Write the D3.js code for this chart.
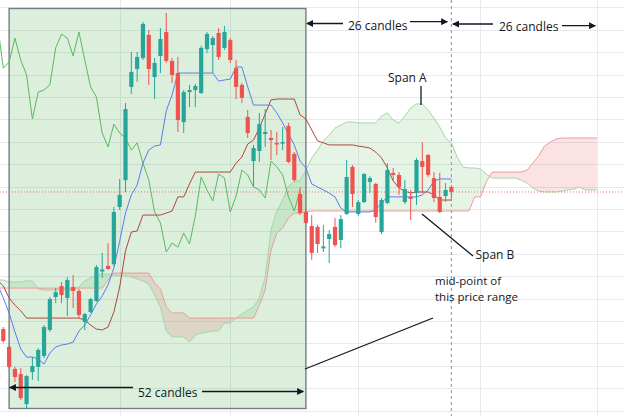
<!DOCTYPE html>
<html><head><meta charset="utf-8">
<script src="https://cdn.jsdelivr.net/npm/d3@7"></script>
<style>html,body{margin:0;padding:0;background:#fff;overflow:hidden}</style>
</head><body><svg id="c" width="624" height="416"></svg>
<script>
// ---- candle data (index 0..77) ----
const opens=[36.4,28.4,18.6,16.3,2.9,17.2,19.5,24.4,36.0,50.7,
55.6,50.3,55.2,53.4,39.6,44.0,48.9,62.1,64.6,65.4,
90.9,102.9,144.5,152.5,157.4,167.7,148.9,158.3,169.0,156.1,
150.7,128.8,142.2,143.1,141.8,161.4,163.2,168.6,161.9,165.4,
152.9,145.4,131.1,111.4,115.9,123.5,121.7,119.5,119.2,127.1,
114.6,96.7,88.7,82.4,82.0,72.4,76.6,82.0,76.2,87.8,
108.8,87.8,93.1,102.1,101.2,79.7,92.7,106.1,105.2,93.1,
95.4,97.1,111.4,114.1,103.8,95.4,95.8,99.8];
const highs=[37.3,29.3,19.5,19.0,15.9,23.9,27.9,38.2,50.7,54.7,
57.4,59.6,60.5,54.3,43.6,50.3,65.0,70.4,74.8,90.9,
103.4,137.3,160.1,160.1,173.5,169.9,157.4,170.8,177.5,157.4,
157.9,143.1,145.4,145.8,162.8,169.0,167.2,170.8,171.7,166.3,
156.5,146.3,134.2,118.6,132.9,134.6,125.3,124.4,126.6,128.4,
115.4,99.8,89.6,87.3,82.9,82.9,80.6,86.0,87.3,111.9,
109.6,94.0,106.1,104.7,101.6,94.9,110.5,108.3,106.5,102.9,
98.5,112.8,119.9,114.6,106.5,106.1,101.6,100.7];
const lows=[30.2,19.0,12.8,4.7,0.7,13.7,13.2,23.5,35.1,48.0,
48.0,42.2,45.8,41.3,36.0,43.6,48.5,59.2,62.8,64.6,
89.6,97.6,141.3,146.7,156.5,145.4,139.1,150.7,155.2,146.3,
124.4,123.9,135.5,135.5,141.3,159.6,150.7,156.5,161.0,155.2,
139.1,137.3,121.7,99.8,111.0,117.7,111.9,114.1,116.3,110.5,
102.1,87.3,83.3,67.2,70.4,70.8,65.9,73.0,72.6,87.3,
90.9,86.9,92.7,97.1,83.8,78.8,92.2,102.9,96.3,92.2,
85.1,91.8,97.1,104.3,93.1,88.2,93.1,94.9];
const closes=[31.1,19.5,15.0,5.6,15.4,19.9,27.1,37.3,49.8,52.9,
51.6,58.3,53.4,42.7,43.1,49.8,64.1,63.0,63.2,88.7,
96.3,134.6,151.2,157.9,172.6,152.5,155.2,165.9,156.1,149.8,
129.7,142.2,143.1,144.9,161.9,168.1,166.3,157.9,169.0,156.5,
144.5,139.6,123.9,117.2,127.9,124.4,120.8,118.8,119.9,111.0,
102.9,88.2,83.8,70.4,74.4,73.3,78.8,73.9,85.5,104.3,
96.7,93.1,105.6,103.8,86.4,94.0,107.4,105.2,99.8,98.9,
94.5,111.9,108.8,105.2,94.9,88.7,98.5,97.6];

// ---- indicator lines (first value is index -1) ----
const tenkan=[56.5,50.3,43.6,35.1,27.5,23.9,23.9,23.0,20.8,25.7,28.4,
29.3,29.7,30.6,35.5,38.2,42.7,47.6,51.2,56.1,63.7,
75.7,88.2,96.3,100.7,110.5,116.3,118.1,118.6,133.8,140.9,
150.7,150.7,150.7,150.7,150.7,150.7,150.7,147.1,147.6,148.0,
153.4,153.4,144.5,136.4,136.4,136.4,136.4,132.9,128.4,123.5,
118.6,111.4,108.3,101.2,99.8,98.5,97.1,95.4,90.4,88.7,
88.7,88.7,88.7,88.7,89.6,92.7,95.4,95.4,95.4,95.4,
95.4,95.4,96.3,98.5,102.5,103.4,103.4,103.4];
const kijun=[58.3,55.6,50.3,47.1,44.5,41.3,41.3,41.3,41.3,41.3,41.3,
41.3,41.3,41.3,41.3,40.4,38.2,36.4,36.0,37.3,44.0,
55.2,71.3,79.7,80.2,87.3,87.3,87.3,87.3,88.2,89.1,
95.4,95.4,101.2,106.5,106.5,106.5,106.5,106.5,106.5,106.5,
110.5,113.2,119.0,120.8,126.2,132.4,138.7,139.1,139.1,139.1,
139.1,132.0,130.2,125.3,120.4,119.5,118.6,118.6,118.6,118.6,
118.6,118.1,117.7,117.2,115.4,112.8,108.3,102.5,99.4,98.0,
97.1,97.6,97.6,97.6,96.3,94.0,94.0,94.0];
const chikou=[172.6,152.9,155.6,166.3,156.5,149.8,130.2,142.2,143.1,145.4,161.9,
168.1,166.3,158.3,169.0,156.5,144.5,140.0,123.9,117.7,127.9,
123.9,121.7,116.3,119.5,110.5,102.9,88.7,83.8,70.8,74.8,
73.0,79.3,74.4,86.9,104.3,98.5,93.6,105.6,103.8,88.7,
95.8,107.4,105.2,99.8,98.5,94.9,111.4,108.8,105.2,95.4,
89.1,98.5];
const spanA=[58.3,58.3,57.4,57.4,57.4,57.9,57.9,54.3,53.8,53.8,53.8,
53.8,53.8,53.8,55.2,57.9,59.2,60.5,61.0,61.0,60.5,
60.1,60.1,59.6,58.8,57.9,56.5,51.6,46.3,35.5,32.9,
32.9,32.9,30.6,33.8,34.6,35.1,35.5,35.5,39.1,39.1,
41.3,43.1,44.9,46.3,50.3,59.6,80.6,89.1,94.0,100.3,
102.1,102.9,107.4,112.8,116.3,120.4,123.0,126.2,127.5,128.8,
128.8,128.4,128.4,128.4,128.4,131.5,132.9,129.7,128.4,131.5,
135.1,136.9,136.9,134.2,130.6,126.6,121.7,119.5,113.2,108.8,
108.3,108.3,107.9,105.6,103.8,103.8,103.8,103.8,103.8,102.9,
101.6,99.4,98.0,97.6,97.6,97.6,98.0,98.5,98.9,99.8,
98.5,98.5,98.5];
const spanB=[54.7,54.7,54.7,54.7,54.7,54.7,54.7,54.7,54.7,54.7,54.7,
54.7,54.7,54.7,54.7,54.7,54.7,54.7,54.7,58.3,61.4,
61.4,61.4,61.4,61.4,61.4,61.4,57.0,54.3,46.3,43.6,
43.6,43.6,41.3,41.3,41.3,41.3,41.3,41.3,41.3,41.3,
41.3,41.3,41.3,41.3,47.1,53.8,71.7,79.3,81.5,86.0,
88.2,88.2,88.7,89.1,89.1,89.1,89.1,89.1,89.1,89.1,
89.1,89.1,89.1,89.1,89.1,89.1,89.1,89.1,89.1,89.1,
89.1,89.1,89.1,89.1,89.1,89.1,89.1,89.1,89.1,89.1,
89.1,95.4,95.4,102.1,106.5,106.5,106.5,106.5,106.5,106.5,
107.4,110.5,113.7,118.1,119.9,121.2,121.7,121.7,121.7,121.7,
121.7,121.7,121.7];
const gridPrices=d3.range(0,181,10);
const gridCandles=[20,39,61,82,102];
const lastPrice=97.6;

const W=624,H=416;
const svg=d3.select('#c');
const x=d3.scaleLinear().domain([0,77]).range([3.3,451.4]);
const y=d3.scaleLinear().domain([0,180]).range([410.6,7.4]);
const FONT='"Open Sans", "Noto Sans", sans-serif';
const INK='#131722';

svg.append('rect').attr('width',W).attr('height',H).attr('fill','#fff');
const defs=svg.append('defs');
defs.append('marker').attr('id','ah').attr('viewBox','0 0 10 10').attr('refX',9).attr('refY',5)
  .attr('markerWidth',7).attr('markerHeight',7).attr('markerUnits','userSpaceOnUse').attr('orient','auto')
  .append('path').attr('d','M0,0L10,5L0,10Z').attr('fill',INK);

// grid
svg.append('g').selectAll('line').data(gridPrices).join('line')
  .attr('x1',0).attr('x2',W).attr('y1',d=>Math.round(y(d))+0.5).attr('y2',d=>Math.round(y(d))+0.5)
  .attr('stroke','#e6e9ee').attr('stroke-width',1);
svg.append('g').selectAll('line').data(gridCandles).join('line')
  .attr('y1',0).attr('y2',H).attr('x1',d=>Math.round(x(d))+0.5).attr('x2',d=>Math.round(x(d))+0.5)
  .attr('stroke','#e6e9ee').attr('stroke-width',1);

// 52-candle box fill
const bx0=x(1), bx1=x(52);
svg.append('rect').attr('x',bx0).attr('y',8.5).attr('width',bx1-bx0).attr('height',400)
  .attr('fill','rgba(76,175,80,0.2)');

// cloud
const cloud=spanA.map((a,k)=>({i:k-1,a:a,b:spanB[k]}));
defs.append('clipPath').attr('id','above').append('path')
  .attr('d',d3.area().x(d=>x(d.i)).y0(0).y1(d=>y(d.b))(cloud));
defs.append('clipPath').attr('id','below').append('path')
  .attr('d',d3.area().x(d=>x(d.i)).y0(H).y1(d=>y(d.b))(cloud));
const between=d3.area().x(d=>x(d.i)).y0(d=>y(d.b)).y1(d=>y(d.a));
svg.append('path').attr('d',between(cloud)).attr('fill','rgba(76,175,80,0.14)').attr('clip-path','url(#above)');
svg.append('path').attr('d',between(cloud)).attr('fill','rgba(239,83,80,0.16)').attr('clip-path','url(#below)');
const lineOf=(arr,start)=>d3.line().x((d,k)=>x(k+start)).y(d=>y(d))(arr);
svg.append('path').attr('d',lineOf(spanA,-1)).attr('fill','none').attr('stroke','#a5d6a7').attr('stroke-width',1);
svg.append('path').attr('d',lineOf(spanB,-1)).attr('fill','none').attr('stroke','#ef9a9a').attr('stroke-width',1);

// last price line
svg.append('line').attr('x1',0).attr('x2',W).attr('y1',y(lastPrice)).attr('y2',y(lastPrice))
  .attr('stroke','#ef5350').attr('stroke-width',1).attr('stroke-dasharray','1,2').attr('opacity',0.8);

// dashed current-candle line
svg.append('line').attr('x1',x(77)).attr('x2',x(77)).attr('y1',0).attr('y2',H)
  .attr('stroke','#a3a6ad').attr('stroke-width',1.3).attr('stroke-dasharray','3,3');

// box border
svg.append('rect').attr('x',bx0).attr('y',8.5).attr('width',bx1-bx0).attr('height',400)
  .attr('fill','none').attr('stroke','#787b80').attr('stroke-width',1.4);

// indicator lines
svg.append('path').attr('d',lineOf(chikou,-1)).attr('fill','none').attr('stroke','#5cb860').attr('stroke-width',1);
svg.append('path').attr('d',lineOf(kijun,-1)).attr('fill','none').attr('stroke','#b2453c').attr('stroke-width',1);
svg.append('path').attr('d',lineOf(tenkan,-1)).attr('fill','none').attr('stroke','#5b7cf0').attr('stroke-width',1);

// candles
const candles=opens.map((o,i)=>({i:i,o:o,h:highs[i],l:lows[i],c:closes[i]}));
const col=d=>d.c>=d.o?'#26a69a':'#ef5350';
const cg=svg.append('g');
cg.selectAll('line').data(candles).join('line')
  .attr('x1',d=>x(d.i)).attr('x2',d=>x(d.i)).attr('y1',d=>y(d.h)).attr('y2',d=>y(d.l))
  .attr('stroke',col).attr('stroke-width',1);
cg.selectAll('rect').data(candles).join('rect')
  .attr('x',d=>x(d.i)-2.1).attr('width',4.2)
  .attr('y',d=>y(Math.max(d.o,d.c)))
  .attr('height',d=>Math.max(1.2,Math.abs(y(d.o)-y(d.c))))
  .attr('fill',col);

// annotations
const ann=svg.append('g');
function arrow(x1,y1,x2,y2,head){
  const l=ann.append('line').attr('x1',x1).attr('y1',y1).attr('x2',x2).attr('y2',y2)
    .attr('stroke',INK).attr('stroke-width',1.3);
  if(head) l.attr('marker-end','url(#ah)');
}
function text(t,tx,ty,fs){
  return ann.append('text').attr('x',tx).attr('y',ty).text(t).attr('font-family',FONT)
    .attr('font-size',fs||12).attr('fill',INK);
}
// 26 candles (1)
arrow(343,23.5,x(52)+1,23.5,true);
text('26 candles',348,30);
arrow(410,21.7,x(77)-4,21.7,true);
// 26 candles (2)
arrow(493,24,x(77)+1.5,24,true);
text('26 candles',499,30.5);
arrow(562,25.7,x(102)-1.5,25.7,true);
// 52 candles
arrow(133,387.5,x(1)+0.5,387.5,true);
text('52 candles',138,396.5);
arrow(202,391.5,x(52)-2.5,391.5,true);
// Span A
text('Span A',388,82);
arrow(421,86,421,105,false);
// Span B
text('Span B',475.5,259);
arrow(473,256,422,214,false);
// mid-point (two lines)
text('mid-point of',435,285,11.5);
text('this price range',435,301,11.5);
arrow(433,318,305,369,false);
</script></body></html>
